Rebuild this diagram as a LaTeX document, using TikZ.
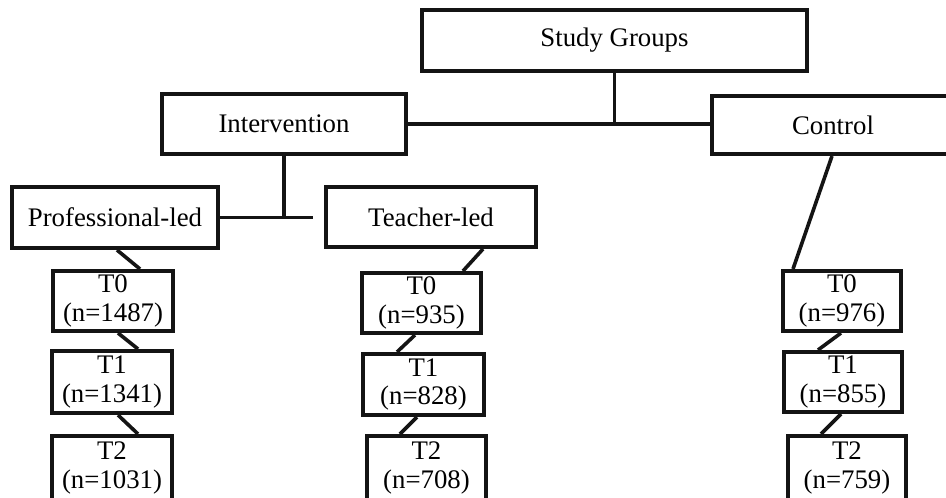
\documentclass[tikz,border=0pt]{standalone}
\usepackage{fontspec}
\setmainfont{Liberation Serif}
\begin{document}
\begin{tikzpicture}[x=1pt,y=-1pt,
  box/.style={draw=black!92, line width=4pt, inner sep=0pt, align=center,
    font={\fontsize{26.8}{28.5}\selectfont}, fill=white},
  conn/.style={draw=black!92, line width=3.6pt}]
\useasboundingbox (0,0) rectangle (946,498);
\clip (0,0) rectangle (946,498);
\fill[white] (0,0) rectangle (946,498);
% top levels
\node[box, minimum width=385pt, minimum height=61pt] (sg) at (614.5,40.5) {Study Groups};
\node[box, minimum width=244pt, minimum height=60pt] (int) at (284,124) {Intervention};
\node[box, minimum width=242pt, minimum height=58pt] (ctrl) at (833,125) {Control};
\node[box, minimum width=206pt, minimum height=61pt] (prof) at (115,217.5) {Professional-led};
\node[box, minimum width=210pt, minimum height=60pt] (teach) at (431,217) {Teacher-led};
% left column
\node[box, minimum width=120pt, minimum height=60pt] (L0) at (113,301) {T0\\(n=1487)};
\node[box, minimum width=120pt, minimum height=62pt] (L1) at (112,382) {T1\\(n=1341)};
\node[box, minimum width=120pt, minimum height=64pt] (L2) at (112,468) {T2\\(n=1031)};
% middle column
\node[box, minimum width=119pt, minimum height=60pt] (M0) at (421.5,303) {T0\\(n=935)};
\node[box, minimum width=121pt, minimum height=61pt] (M1) at (423.5,384.5) {T1\\(n=828)};
\node[box, minimum width=119pt, minimum height=64pt] (M2) at (426.5,468) {T2\\(n=708)};
% right column
\node[box, minimum width=118pt, minimum height=60pt] (R0) at (842,301) {T0\\(n=976)};
\node[box, minimum width=118pt, minimum height=60pt] (R1) at (843,382) {T1\\(n=855)};
\node[box, minimum width=118pt, minimum height=64pt] (R2) at (847,468) {T2\\(n=759)};
\coordinate (jend) at (313,217.5);
% connectors
\draw[conn] (sg.south) -- (sg.south |- int.east);
\draw[conn] (int.east) -- (int.east -| ctrl.west);
\draw[conn] (int.south) -- (int.south |- prof.east);
\draw[conn] (prof.east) -- (jend);
\draw[conn] ([xshift=-1pt]ctrl.south) -- ([xshift=-49pt]R0.north);
\draw[conn] ([xshift=2pt]prof.south) -- ([xshift=27pt]L0.north);
\draw[conn] ([xshift=5pt]L0.south) -- ([xshift=26pt]L1.north);
\draw[conn] ([xshift=6pt]L1.south) -- ([xshift=26pt]L2.north);
\draw[conn] ([xshift=52pt]teach.south) -- ([xshift=41.5pt]M0.north);
\draw[conn] ([xshift=-6.5pt]M0.south) -- ([xshift=-26.5pt]M1.north);
\draw[conn] ([xshift=-6.5pt]M1.south) -- ([xshift=-26.5pt]M2.north);
\draw[conn] ([xshift=-1pt]R0.south) -- ([xshift=-25pt]R1.north);
\draw[conn] ([xshift=-2pt]R1.south) -- ([xshift=-26pt]R2.north);
\end{tikzpicture}
\end{document}
